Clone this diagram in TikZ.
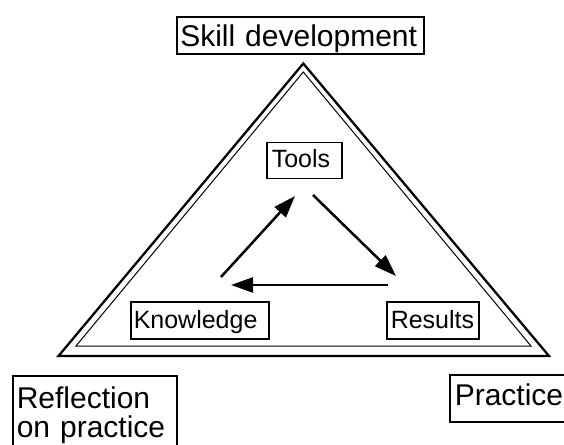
\documentclass[tikz,border=0pt]{standalone}
\usepackage{fontspec}
\setmainfont{Liberation Sans}
\usetikzlibrary{arrows.meta}
\begin{document}
\begin{tikzpicture}[x=1pt,y=-1pt,
  box/.style={draw, line width=1.5pt, align=left, inner ysep=0pt, anchor=base west},
  big/.style={font=\fontsize{30}{29}\selectfont},
  small/.style={font=\fontsize{25}{25}\selectfont},
  arr/.style={line width=2.5pt, -{Triangle[length=22pt,width=15pt]}},
  outertri/.style={line width=2.3pt, line join=miter},
  innertri/.style={line width=1pt, line join=miter}]
\useasboundingbox (0,0) rectangle (564,444);

\node[box, big, inner xsep=3.5pt, text width=240pt, text height=30pt, text depth=7pt] (skill) at (176,47) {Skill development};
\node[box, small, inner xsep=5pt, text width=65pt, text height=25pt, text depth=10.6pt] (tools) at (266,167.7) {Tools};
\node[box, small, inner xsep=3pt, text width=132pt, text height=26.3pt, text depth=10.7pt] (know) at (130,328.3) {Knowledge};
\node[box, small, inner xsep=4pt, text width=84pt, text height=26.3pt, text depth=10.7pt] (res) at (386,328.3) {Results};
\node[box, big, inner xsep=5pt, text width=200pt, text height=30pt, text depth=17pt] (prac) at (449,405) {Practice};
\node[draw, line width=1.5pt, big, align=left, anchor=north west, inner xsep=4pt, inner ysep=11pt, text width=156pt] (refl) at (12,375) {Reflection\\on practice\\ \mbox{}};

\draw[outertri] (303.3,63.5) -- (58.5,356) -- (549,356) -- cycle;
\draw[innertri] (303.3,72) -- (76,346) -- (531,346) -- cycle;

\coordinate (kt1) at (221,277);
\coordinate (kt2) at (295,196);
\coordinate (tr1) at (313,195);
\coordinate (tr2) at (396,276);
\coordinate (rk1) at (388,285);
\coordinate (rk2) at (231,285);
\draw[arr] (kt1) -- (kt2);
\draw[arr] (tr1) -- (tr2);
\draw[arr] (rk1) -- (rk2);
\end{tikzpicture}
\end{document}
